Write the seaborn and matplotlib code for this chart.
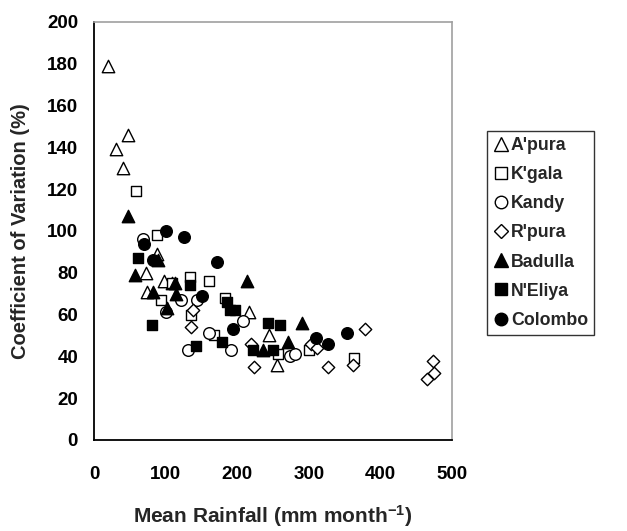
import numpy as np
import pandas as pd
import matplotlib
matplotlib.use("Agg")
import matplotlib.pyplot as plt
from matplotlib.lines import Line2D
import seaborn as sns

stations = ["A'pura", "K'gala", "Kandy", "R'pura", "Badulla", "N'Eliya", "Colombo"]

apura_x = [20, 30, 40, 47, 73, 74, 88, 97, 109, 217, 245, 255]
apura_y = [179, 139, 130, 146, 80, 71, 89, 76, 75, 61, 50, 36]
kgala_x = [59, 88, 94, 109, 134, 135, 160, 168, 183, 257, 300, 363]
kgala_y = [119, 98, 67, 75, 78, 60, 76, 50, 68, 41, 43, 39]
kandy_x = [68, 101, 121, 144, 131, 160, 191, 208, 274, 280]
kandy_y = [96, 61, 67, 67, 43, 51, 43, 57, 40, 41]
rpura_x = [135, 138, 219, 223, 303, 311, 327, 362, 378, 465, 474, 475]
rpura_y = [54, 62, 46, 35, 46, 44, 35, 36, 53, 29, 38, 32]
badulla_x = [47, 57, 83, 90, 102, 113, 115, 214, 236, 271, 290]
badulla_y = [107, 79, 71, 86, 63, 75, 70, 76, 43, 47, 56]
neliya_x = [62, 81, 134, 143, 179, 185, 190, 197, 222, 243, 250, 260]
neliya_y = [87, 55, 74, 45, 47, 66, 62, 62, 43, 56, 43, 55]
colombo_x = [70, 83, 100, 126, 151, 172, 194, 310, 327, 353]
colombo_y = [94, 86, 100, 97, 69, 85, 53, 49, 46, 51]

xs = [apura_x, kgala_x, kandy_x, rpura_x, badulla_x, neliya_x, colombo_x]
ys = [apura_y, kgala_y, kandy_y, rpura_y, badulla_y, neliya_y, colombo_y]

frames = []
for name, x, y in zip(stations, xs, ys):
    frames.append(pd.DataFrame({"station": name, "rain": x, "cv": y}))
df = pd.concat(frames, ignore_index=True)

markers = {"A'pura": "^", "K'gala": "s", "Kandy": "o", "R'pura": "D",
           "Badulla": "^", "N'Eliya": "s", "Colombo": "o"}
faces = {"A'pura": "white", "K'gala": "white", "Kandy": "white", "R'pura": "white",
         "Badulla": "black", "N'Eliya": "black", "Colombo": "black"}
sizes = {"^": 80, "s": 60, "o": 70, "D": 40}

sns.set_style("white")
plt.rcParams['font.family'] = ['Liberation Sans', 'DejaVu Sans']
plt.rcParams['font.weight'] = 'bold'
plt.rcParams['mathtext.fontset'] = 'custom'
plt.rcParams['mathtext.bf'] = 'Liberation Sans:bold'
plt.rcParams['mathtext.rm'] = 'Liberation Sans:bold'
plt.rcParams['mathtext.default'] = 'bf'

fig = plt.figure(figsize=(6.27, 5.31), dpi=100)
ax = fig.add_axes([0.15, 0.1714, 0.571, 0.7872])

for name in stations:
    sub = df[df["station"] == name]
    m = markers[name]
    sns.scatterplot(data=sub, x="rain", y="cv", ax=ax, marker=m,
                    color=faces[name], edgecolor="black", linewidth=1.0,
                    s=sizes[m], legend=False, zorder=3)

ax.set_xlim(0, 500)
ax.set_ylim(0, 200)
ax.set_xticks([0, 100, 200, 300, 400, 500])
ax.set_yticks(np.arange(0, 201, 20))
ax.tick_params(axis="both", direction="out", length=5.5, width=1.2,
               labelsize=13.5, colors="black")
ax.tick_params(axis="y", pad=6)
ax.tick_params(axis="x", pad=13)
for lab in ax.get_xticklabels() + ax.get_yticklabels():
    lab.set_fontweight("bold")

for s in ["left", "bottom"]:
    ax.spines[s].set_color("black")
    ax.spines[s].set_linewidth(1.3)
for s in ["top", "right"]:
    ax.spines[s].set_color("#a0a0a0")
    ax.spines[s].set_linewidth(1.2)

ax.set_xlabel(r"Mean Rainfall (mm month$^{-1}$)", fontsize=15, fontweight="bold")
ax.set_ylabel("Coefficient of Variation (%)", fontsize=14.5, fontweight="bold")
ax.xaxis.set_label_coords(0.5, -0.152)
ax.yaxis.set_label_coords(-0.18, 0.5)

handles = []
for name in stations:
    m = markers[name]
    handles.append(Line2D([], [], linestyle="none", marker=m,
                          markerfacecolor=faces[name], markeredgecolor="black",
                          markeredgewidth=1.0,
                          markersize={"^": 10, "s": 9, "o": 9, "D": 7}[m]))
leg = fig.legend(handles, stations, loc="upper left",
                 bbox_to_anchor=(487 / 627, 1 - 131 / 531),
                 frameon=True, fancybox=False, edgecolor="black",
                 prop={"weight": "bold", "size": 12.8},
                 handletextpad=0.1, labelspacing=0.68, borderpad=0.35,
                 handlelength=0.9, borderaxespad=0)
leg.get_frame().set_linewidth(1.0)

fig.savefig("out.png", dpi=100)
